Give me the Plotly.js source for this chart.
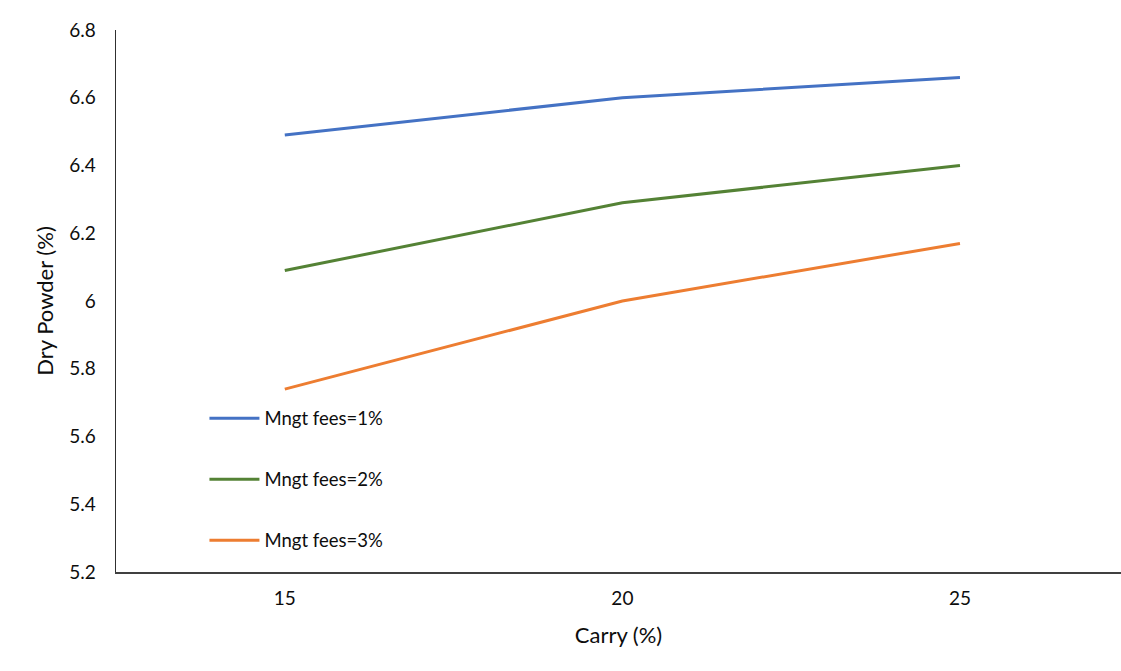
<!DOCTYPE html>
<html>
<head>
<meta charset="utf-8">
<script src="https://cdn.plot.ly/plotly-3.0.1.min.js"></script>
<style>
  html, body { margin: 0; padding: 0; background: #ffffff; }
  #chart { width: 1121px; height: 671px; }
</style>
</head>
<body>
<div id="chart"></div>
<script>
// Carry rates on the x axis
const carry = [15, 20, 25];
const carryLabels = ['15', '20', '25'];

// Dry powder (%) for each management fee level
const fees1 = [6.49, 6.60, 6.66];
const fees2 = [6.09, 6.29, 6.40];
const fees3 = [5.74, 6.00, 6.17];

const seriesNames = ['Mngt fees=1%', 'Mngt fees=2%', 'Mngt fees=3%'];
const seriesColors = ['#4472C4', '#548235', '#ED7D31'];

const yTicks = [5.2, 5.4, 5.6, 5.8, 6, 6.2, 6.4, 6.6, 6.8];
const yTickLabels = ['5.2', '5.4', '5.6', '5.8', '6', '6.2', '6.4', '6.6', '6.8'];

const values = [fees1, fees2, fees3];
const traces = values.map((v, i) => ({
  x: carry,
  y: v,
  type: 'scatter',
  mode: 'lines',
  name: seriesNames[i],
  legendgroup: 'g' + i,
  line: { color: seriesColors[i], width: 3 },
  hoverinfo: 'x+y+name'
}));

const fontFamily = 'Lato, "Open Sans", sans-serif';
const textColor = '#0d0d0d';

const layout = {
  width: 1121,
  height: 671,
  paper_bgcolor: '#ffffff',
  plot_bgcolor: '#ffffff',
  margin: { l: 116, r: 0, t: 30, b: 99 },
  font: { family: fontFamily, color: textColor, size: 18 },
  showlegend: true,
  legend: {
    x: 0.088,
    y: 0.318,
    xanchor: 'left',
    yanchor: 'top',
    bgcolor: 'rgba(0,0,0,0)',
    font: { family: fontFamily, size: 18.5, color: textColor },
    tracegroupgap: 34,
    itemwidth: 50
  },
  xaxis: {
    range: [12.5, 27.385],
    tickvals: carry,
    ticktext: carryLabels,
    showgrid: false,
    zeroline: false,
    showline: true,
    linecolor: '#404040',
    linewidth: 2,
    ticks: '',
    ticklabelstandoff: 8,
    tickfont: { size: 19, family: fontFamily, color: textColor },
    title: { text: 'Carry (%)', font: { size: 22, family: fontFamily, color: textColor }, standoff: 20 }
  },
  yaxis: {
    range: [5.2, 6.8],
    tickvals: yTicks,
    ticktext: yTickLabels,
    showgrid: false,
    zeroline: false,
    showline: true,
    linecolor: '#303030',
    linewidth: 1.5,
    ticks: '',
    ticklabelstandoff: 15,
    tickfont: { size: 19, family: fontFamily, color: textColor },
    title: { text: 'Dry Powder (%)', font: { size: 22, family: fontFamily, color: textColor }, standoff: 9 }
  }
};

Plotly.newPlot('chart', traces, layout, { displayModeBar: false, staticPlot: true });
</script>
</body>
</html>
